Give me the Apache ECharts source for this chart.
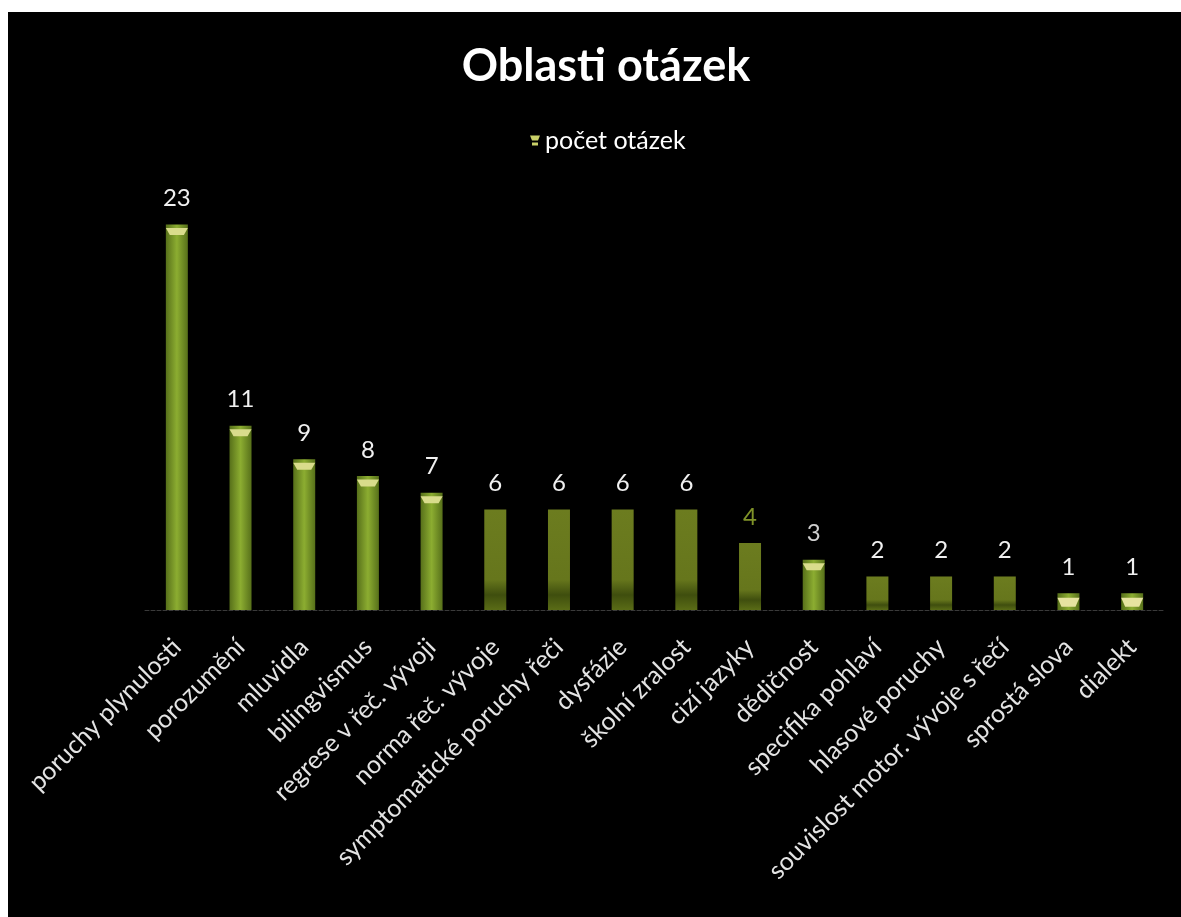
<!DOCTYPE html>
<html>
<head>
<meta charset="utf-8">
<script src="https://cdn.jsdelivr.net/npm/echarts@6/dist/echarts.min.js"></script>
<style>
  html, body { margin: 0; padding: 0; background: #ffffff; }
  #chart { position: absolute; left: 8px; top: 12px; width: 1173px; height: 905px; background: #000; }
</style>
</head>
<body>
<div id="chart"></div>
<script>
// Topic areas and how many questions fell into each
const categories = [
  'poruchy plynulosti', 'porozumění', 'mluvidla', 'bilingvismus', 'regrese v řeč. vývoji',
  'norma řeč. vývoje', 'symptomatické poruchy řeči', 'dysfázie', 'školní zralost', 'cizí jazyky',
  'dědičnost', 'specifika pohlaví', 'hlasové poruchy', 'souvislost motor. vývoje s řečí',
  'sprostá slova', 'dialekt'
];
const counts = [23, 11, 9, 8, 7, 6, 6, 6, 6, 4, 3, 2, 2, 2, 1, 1];
const seriesName = 'počet otázek';

// bar look groups (indices into categories)
const flatOlive = [5, 6, 7, 8, 9, 11, 12, 13];
const paleTop = [14, 15];

const greenGrad = {
  type: 'linear', x: 0, y: 0, x2: 1, y2: 0,
  colorStops: [
    { offset: 0, color: '#57701a' },
    { offset: 0.5, color: '#8cad31' },
    { offset: 1, color: '#57701a' }
  ]
};
const oliveGrad = {
  type: 'linear', x: 0, y: 0, x2: 0, y2: 1,
  colorStops: [
    { offset: 0, color: '#6c7c1f' },
    { offset: 0.7, color: '#66761c' },
    { offset: 0.85, color: '#3f4e0e' },
    { offset: 1, color: '#5a6c16' }
  ]
};

const barData = counts.map((v, i) => {
  const item = { value: v, itemStyle: { color: flatOlive.includes(i) ? oliveGrad : greenGrad } };
  if (i === 9) item.label = { color: '#7f9228' };
  if (i === 10) item.label = { color: '#cfcfcf' };
  return item;
});

const capData = counts.map((v, i) => {
  if (flatOlive.includes(i)) return { value: v, symbol: 'none' };
  return {
    value: v,
    itemStyle: { color: paleTop.includes(i) ? '#e6e3a0' : '#d9dc8c' },
    symbolSize: paleTop.includes(i) ? [22, 9] : [22, 7]
  };
});

const chart = echarts.init(document.getElementById('chart'), null, { renderer: 'canvas' });
chart.setOption({
  backgroundColor: '#000000',
  animation: false,
  textStyle: { fontFamily: 'Lato' },
  title: {
    text: 'Oblasti otázek',
    left: 593,
    top: 27,
    textAlign: 'center',
    textStyle: { color: '#ffffff', fontSize: 45, fontWeight: 'bold', fontFamily: 'Lato' }
  },
  legend: {
    data: [seriesName],
    left: 517,
    top: 111,
    itemWidth: 10,
    itemHeight: 10,
    itemGap: 8,
    icon: 'path://M0,0 L10,0 L8,5 L2,5 Z M2,7 L8,7 L8,10 L2,10 Z',
    itemStyle: { color: '#c9d068' },
    textStyle: { color: '#ffffff', fontSize: 25, fontFamily: 'Lato' }
  },
  grid: { left: 137, right: 17, top: 179, bottom: 307, containLabel: false },
  xAxis: {
    type: 'category',
    data: categories,
    axisTick: { show: false },
    axisLine: { show: true, lineStyle: { color: '#3a3a3a', width: 1, type: 'dashed' } },
    axisLabel: {
      rotate: 45,
      interval: 0,
      margin: 33,
      color: '#e4e4e4',
      fontSize: 25,
      fontFamily: 'Lato'
    }
  },
  yAxis: {
    type: 'value',
    min: 0,
    max: 25,
    show: false,
    splitLine: { show: false }
  },
  series: [
    {
      name: seriesName,
      type: 'bar',
      barWidth: 22,
      data: barData,
      label: {
        show: true,
        position: 'top',
        distance: 14,
        color: '#f0f0f0',
        fontSize: 24,
        fontFamily: 'Lato'
      },
      z: 2
    },
    {
      type: 'pictorialBar',
      symbol: 'path://M0,0 L22,0 L18,8 L4,8 Z',
      symbolPosition: 'end',
      symbolOffset: [0, '50%'],
      barGap: '-100%',
      barWidth: 22,
      data: capData,
      silent: true,
      z: 3,
      tooltip: { show: false }
    }
  ]
});
</script>
</body>
</html>
